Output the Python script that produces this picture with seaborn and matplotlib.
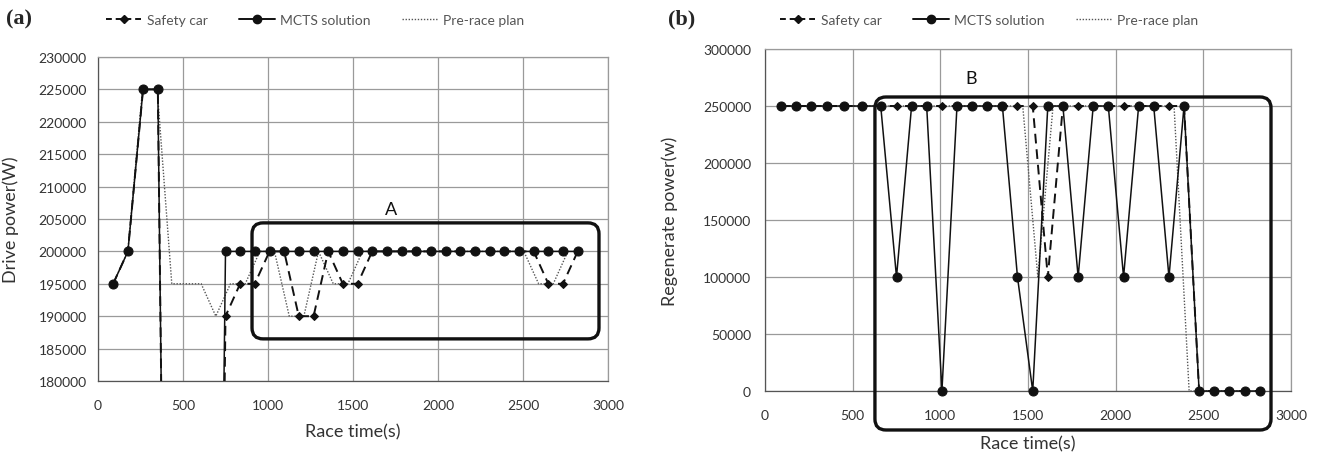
import numpy as np
import pandas as pd
import seaborn as sns
import matplotlib.pyplot as plt
from matplotlib.patches import FancyBboxPatch
from matplotlib.lines import Line2D
from matplotlib.transforms import IdentityTransform

sns.set_theme(style="white")
plt.rcParams['font.family'] = ['Lato', 'DejaVu Sans']

# sample times (s) for MCTS / safety car runs
race_x = [89, 176, 265, 352, 450, 555, 660, 750, 836, 922, 1009, 1095, 1181, 1268,
          1354, 1440, 1527, 1613, 1699, 1786, 1872, 1958, 2045, 2131, 2217, 2304,
          2390, 2476, 2563, 2649, 2735, 2822]
# sample times (s) for pre-race plan
plan_x = [89, 175, 262, 348, 434, 521, 607, 693, 779, 866, 952, 1038, 1125, 1211,
          1297, 1384, 1470, 1556, 1643, 1729, 1815, 1901, 1988, 2074, 2160, 2247,
          2333, 2419, 2505, 2592, 2678, 2764]

# (a) drive power (W)
mcts_drive = [195000, 200000, 225000, 225000, 0, 0, 0] + [200000] * 25
safety_drive = [195000, 200000, 225000, 225000, 0, 0, 0,
                190000, 195000, 195000, 200000, 200000, 190000, 190000, 200000,
                195000, 195000] + [200000] * 12 + [195000, 195000, 200000]
plan_drive = [195000, 200000, 225000, 225000, 195000, 195000, 195000, 190000,
              195000, 195000, 200000, 200000, 190000, 190000, 200000, 195000,
              195000, 200000] + [200000] * 11 + [195000, 195000, 200000]

# (b) regenerate power (w)
mcts_regen = [250000] * 7 + [100000, 250000, 250000, 0, 250000, 250000, 250000,
              250000, 100000, 0, 250000, 250000, 100000, 250000, 250000, 100000,
              250000, 250000, 100000, 250000, 0, 0, 0, 0, 0]
safety_regen = [250000] * 17 + [100000] + [250000] * 9 + [0] * 5
plan_regen = [250000] * 17 + [100000] + [250000] * 9 + [0] * 5

W, H = 1318, 460
fig = plt.figure(figsize=(W / 100, H / 100), dpi=100)
ax_a = fig.add_axes([98 / W, 1 - 382 / H, 510 / W, 324 / H])
ax_b = fig.add_axes([765 / W, 1 - 392 / H, 526 / W, 342 / H])

ink = "#111111"
txt = "#333333"


def draw(ax, y_mcts, y_safety, y_plan, clip):
    d1 = pd.DataFrame({"t": race_x, "p": y_safety})
    d2 = pd.DataFrame({"t": race_x, "p": y_mcts})
    d3 = pd.DataFrame({"t": plan_x, "p": y_plan})
    sns.lineplot(data=d3, x="t", y="p", ax=ax, sort=False, estimator=None,
                 color="#555555", lw=1.0, linestyle=(0, (1, 1.2)), zorder=3,
                 clip_on=clip)
    sns.lineplot(data=d1, x="t", y="p", ax=ax, sort=False, estimator=None,
                 color=ink, lw=1.4, linestyle=(0, (5, 3)), marker="D", ms=4.5,
                 mec=ink, zorder=4, clip_on=clip)
    sns.lineplot(data=d2, x="t", y="p", ax=ax, sort=False, estimator=None,
                 color=ink, lw=1.1, marker="o", ms=6.5, mec=ink, zorder=5,
                 clip_on=clip)


draw(ax_a, mcts_drive, safety_drive, plan_drive, True)
draw(ax_b, mcts_regen, safety_regen, plan_regen, False)

for ax, ylim, ystep in [(ax_a, (180000, 230000), 5000), (ax_b, (0, 300000), 50000)]:
    ax.set_xlim(0, 3000)
    ax.set_ylim(*ylim)
    ax.set_xticks(np.arange(0, 3001, 500))
    ax.set_yticks(np.arange(ylim[0], ylim[1] + 1, ystep))
    ax.grid(True, color="#9a9a9a", lw=0.9)
    ax.set_axisbelow(True)
    for s in ax.spines.values():
        s.set_color("#9a9a9a")
        s.set_linewidth(0.9)
    ax.spines["bottom"].set_color("#555555")
    ax.spines["left"].set_color("#555555")
    ax.tick_params(length=0, labelsize=10, colors=txt)
    ax.tick_params(axis="x", pad=13)
    ax.set_xlabel("Race time(s)", fontsize=13, color=txt)
    if ax.get_legend():
        ax.get_legend().remove()

ax_a.tick_params(axis="y", pad=8)
ax_b.tick_params(axis="y", pad=10)
ax_a.set_ylabel("Drive power(W)", fontsize=13, color=txt)
ax_b.set_ylabel("Regenerate power(w)", fontsize=13, color=txt)
ax_a.yaxis.set_label_coords(-0.155, 0.5)
ax_b.yaxis.set_label_coords(-0.165, 0.5)
ax_a.xaxis.set_label_coords(0.5, -0.13)
ax_b.xaxis.set_label_coords(0.5, -0.13)

# legends
handles = [Line2D([], [], color=ink, lw=1.4, linestyle=(0, (3, 2)), marker="D", ms=4.5),
           Line2D([], [], color=ink, lw=1.4, marker="o", ms=6),
           Line2D([], [], color="#555555", lw=1.0, linestyle=(0, (1, 1.2)))]
labels = ["Safety car", "MCTS solution", "Pre-race plan"]
for cx in (315, 989):
    fig.legend(handles, labels, loc="center", bbox_to_anchor=(cx / W, 1 - 21 / H),
               ncol=3, frameon=False, fontsize=10, labelcolor="#555555",
               handlelength=2.6, handletextpad=0.4, columnspacing=2.2)

fig.text(6 / W, 1 - 19 / H, "(a)", fontsize=16, fontweight="bold",
         family="Liberation Serif", va="center")
fig.text(668 / W, 1 - 19 / H, "(b)", fontsize=16, fontweight="bold",
         family="Liberation Serif", va="center")


# rounded highlight boxes, in data units of each panel
def box(ax, x0, x1, y0, y1, label, lx, ly):
    p0 = ax.transData.transform((x0, y0))
    p1 = ax.transData.transform((x1, y1))
    patch = FancyBboxPatch(p0, p1[0] - p0[0], p1[1] - p0[1],
                           boxstyle="round,pad=0,rounding_size=11",
                           transform=IdentityTransform(), fill=False,
                           ec=ink, lw=2.4)
    fig.add_artist(patch)
    ax.text(lx, ly, label, fontsize=13, ha="center", va="center", color=ink)


box(ax_a, 906, 2947, 186500, 204400, "A", 1724, 206600)
box(ax_b, 627, 2886, -34200, 257900, "B", 1175, 274600)

fig.savefig("out.png", dpi=100)
